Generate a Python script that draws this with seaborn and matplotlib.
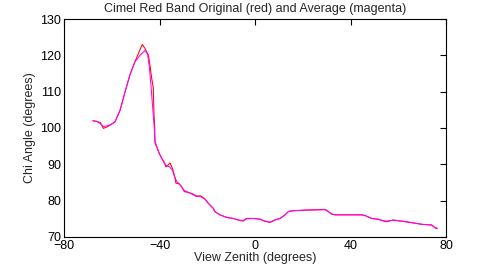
import numpy as np
import pandas as pd
import matplotlib
matplotlib.use("Agg")
import matplotlib.pyplot as plt
import seaborn as sns

# View zenith (degrees) and Chi angle (degrees)
zenith_red = [-67.9, -66.2, -64.8, -63.5, -62.0, -60.7, -58.6, -57.7, -56.5, -54.4,
              -52.4, -50.3, -48.2, -47.2, -46.2, -44.7, -44.0, -43.3, -42.6, -42.3,
              -42.0, -41.9, -41.2, -40.1, -39.1, -38.1, -37.3, -36.4, -35.6, -34.6,
              -33.8, -33.1, -31.7, -30.7, -29.6, -27.6, -25.8, -24.7, -22.7, -20.9,
              -19.6, -17.5, -16.8, -14.7, -11.9, -9.1, -6.3, -4.9, -3.5, -0.7,
              2.1, 4.2, 6.3, 8.4, 10.5, 12.6, 14.0, 15.4, 21.0, 29.3,
              30.7, 32.1, 33.5, 44.7, 46.1, 48.9, 51.6, 53.7, 55.2, 57.9,
              62.8, 67.0, 69.8, 74.0, 75.4, 76.4]
chi_red = [102.0, 101.8, 101.5, 99.9, 100.3, 100.8, 101.7, 103.1, 104.9, 110.0,
           114.6, 118.2, 121.5, 123.0, 122.0, 120.1, 117.3, 113.8, 111.0, 103.6,
           100.0, 95.8, 94.9, 93.0, 91.7, 90.7, 89.3, 89.8, 90.4, 88.9,
           87.1, 84.8, 84.6, 83.8, 82.5, 82.2, 81.8, 81.3, 81.3, 80.4,
           79.3, 77.9, 77.0, 76.1, 75.4, 75.1, 74.5, 74.4, 75.1, 75.1,
           74.9, 74.3, 74.0, 74.7, 75.1, 76.1, 77.0, 77.2, 77.4, 77.6,
           77.0, 76.3, 76.1, 76.1, 75.9, 75.1, 74.9, 74.4, 74.2, 74.7,
           74.2, 73.8, 73.5, 73.3, 72.5, 72.3]

zenith_avg = [-67.9, -66.2, -64.8, -63.5, -62.0, -60.7, -58.6, -57.7, -56.5, -54.4,
              -52.4, -50.3, -48.2, -46.1, -45.0, -44.3, -43.6, -42.9, -42.3, -41.9,
              -41.2, -40.1, -39.1, -38.1, -37.0, -35.8, -34.6, -33.8, -32.8, -31.7,
              -30.7, -29.6, -27.6, -25.8, -24.7, -22.7, -20.9, -19.6, -17.5, -16.8,
              -14.7, -11.9, -9.1, -6.3, -4.9, -3.5, -0.7, 2.1, 4.2, 6.3,
              8.4, 10.5, 12.6, 14.0, 15.4, 21.0, 29.3, 30.7, 32.1, 33.5,
              44.7, 46.1, 48.9, 51.6, 53.7, 55.2, 57.9, 62.8, 67.0, 69.8,
              74.0, 75.4, 76.4]
chi_avg = [102.0, 101.8, 101.2, 100.4, 100.6, 100.8, 101.7, 103.1, 104.9, 110.0,
           114.6, 118.2, 120.0, 121.3, 120.4, 117.0, 112.0, 106.0, 101.0, 96.5,
           94.9, 93.0, 91.7, 90.4, 89.6, 89.3, 88.4, 86.8, 85.3, 84.6,
           83.8, 82.8, 82.2, 81.6, 81.2, 81.1, 80.4, 79.3, 77.9, 77.0,
           76.1, 75.4, 75.1, 74.6, 74.6, 75.0, 75.1, 74.9, 74.4, 74.1,
           74.7, 75.1, 76.1, 77.0, 77.2, 77.4, 77.5, 77.0, 76.3, 76.1,
           76.1, 75.9, 75.1, 74.9, 74.5, 74.4, 74.6, 74.3, 73.8, 73.5,
           73.3, 72.6, 72.4]

x_ticks = [-80, -40, 0, 40, 80]
y_ticks = [70, 80, 90, 100, 110, 120, 130]

sns.set_theme(style="white")
plt.rcParams['font.family'] = ['Liberation Sans', 'DejaVu Sans']
plt.rcParams['font.size'] = 8

fig = plt.figure(figsize=(4.95, 2.67), dpi=100)
ax = fig.add_axes([64/495, 1-237/267, (446-64)/495, (237-19)/267])

df_red = pd.DataFrame({"zenith": zenith_red, "chi": chi_red})
df_avg = pd.DataFrame({"zenith": zenith_avg, "chi": chi_avg})
sns.lineplot(data=df_red, x="zenith", y="chi", ax=ax, color="#ff0000",
             linewidth=0.75, sort=False, estimator=None)
sns.lineplot(data=df_avg, x="zenith", y="chi", ax=ax, color="#ff00ff",
             linewidth=0.75, sort=False, estimator=None)

ax.set_xlim(-80, 80)
ax.set_ylim(70, 130)
ax.set_xticks(x_ticks)
ax.set_yticks(y_ticks)
ax.tick_params(direction="in", length=4, width=0.8, colors="black",
               labelsize=9, top=True, right=True, pad=2)
for s in ax.spines.values():
    s.set_color("black")
    s.set_linewidth(0.8)
ax.set_xlabel("View Zenith (degrees)", fontsize=9, labelpad=0)
ax.set_ylabel("Chi Angle (degrees)", fontsize=9, labelpad=3)
ax.set_title("Cimel Red Band Original (red) and Average (magenta)", fontsize=9, pad=5)

fig.savefig("out.png", dpi=100, facecolor="white")
